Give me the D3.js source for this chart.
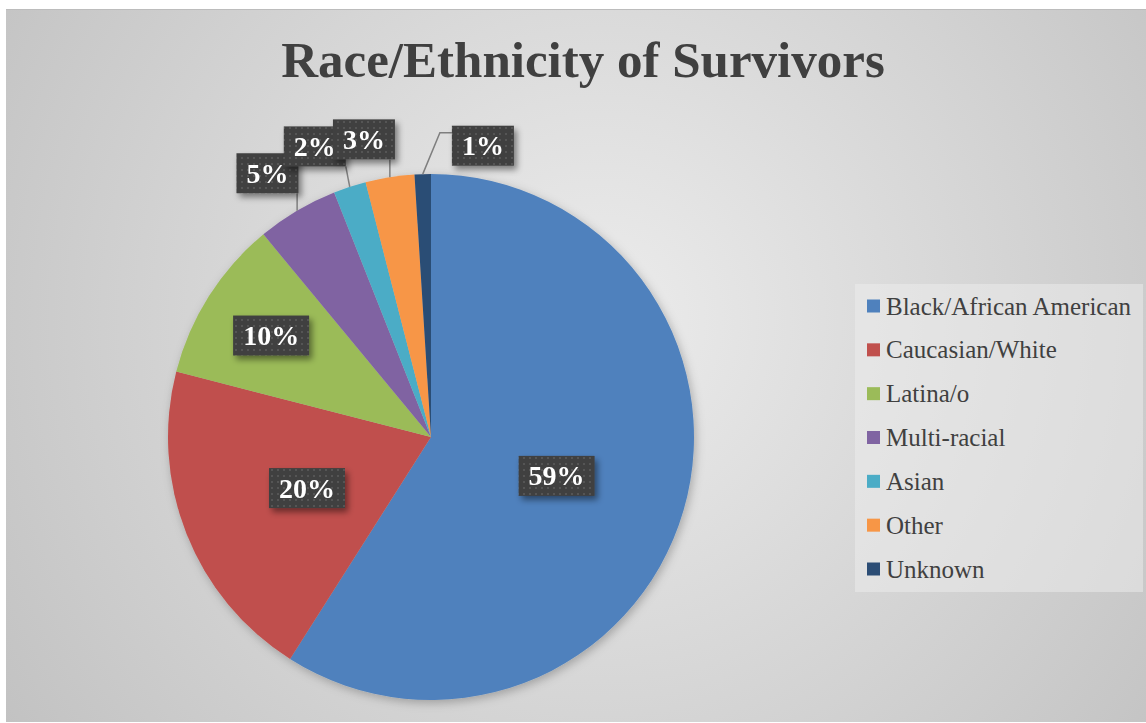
<!DOCTYPE html>
<html>
<head>
<meta charset="utf-8">
<script src="https://cdn.jsdelivr.net/npm/d3@7"></script>
<style>
  html, body { margin: 0; padding: 0; background: #fff; }
  svg { display: block; }
</style>
</head>
<body>
<div id="chart"></div>
<script>
// chart values
var categories = ["Black/African American", "Caucasian/White", "Latina/o", "Multi-racial", "Asian", "Other", "Unknown"];
var shares = [59, 20, 10, 5, 2, 3, 1];
var labelTexts = ["59%", "20%", "10%", "5%", "2%", "3%", "1%"];
var colors = ["#4f81bd", "#c0504d", "#9bbb59", "#8064a2", "#4bacc6", "#f79646", "#2c4d75"];

// label placement (radius as part of pie radius, angle nudge in degrees)
var labelRadius = [0.50, 0.51, 0.72, 1.18, 1.19, 1.16, 1.125];
var labelNudge = [1, -0.8, 0, -1.2, -3.8, -3.7, 11.9];

var W = 1146, H = 723;
var cx = 431, cy = 437, R = 263;

var svg = d3.select("#chart").append("svg")
    .attr("width", W)
    .attr("height", H);

var defs = svg.append("defs");

var bg = defs.append("radialGradient")
    .attr("id", "bgGrad")
    .attr("gradientUnits", "userSpaceOnUse")
    .attr("cx", 600).attr("cy", 320).attr("r", 720);
bg.append("stop").attr("offset", "0%").attr("stop-color", "#ececec");
bg.append("stop").attr("offset", "100%").attr("stop-color", "#c2c2c2");

var pat = defs.append("pattern")
    .attr("id", "dots")
    .attr("patternUnits", "userSpaceOnUse")
    .attr("width", 6).attr("height", 6);
pat.append("rect").attr("width", 6).attr("height", 6).attr("fill", "#3f3f3f");
pat.append("rect").attr("x", 2).attr("y", 2).attr("width", 2).attr("height", 2).attr("fill", "#545454");

var sh = defs.append("filter").attr("id", "boxShadow")
    .attr("x", "-30%").attr("y", "-30%").attr("width", "160%").attr("height", "170%");
sh.append("feDropShadow").attr("dx", 3).attr("dy", 4).attr("stdDeviation", 3)
    .attr("flood-color", "#000").attr("flood-opacity", 0.45);

var psh = defs.append("filter").attr("id", "pieShadow")
    .attr("x", "-10%").attr("y", "-10%").attr("width", "120%").attr("height", "120%");
psh.append("feDropShadow").attr("dx", 2).attr("dy", 3).attr("stdDeviation", 5)
    .attr("flood-color", "#000").attr("flood-opacity", 0.25);

// background
svg.append("rect")
    .attr("x", 6).attr("y", 9)
    .attr("width", W - 6).attr("height", H - 10)
    .attr("fill", "url(#bgGrad)");
svg.append("line")
    .attr("x1", 6).attr("x2", W).attr("y1", 9.5).attr("y2", 9.5)
    .attr("stroke", "#bcbcbc");

// title
svg.append("text")
    .attr("x", 583).attr("y", 77)
    .attr("text-anchor", "middle")
    .style("font-family", "'Liberation Serif', serif")
    .style("font-weight", "bold")
    .style("font-size", "51px")
    .attr("fill", "#404040")
    .text("Race/Ethnicity of Survivors");

// pie
var pie = d3.pie().sort(null).value(function(d) { return d; });
var arcs = pie(shares);
var arc = d3.arc().innerRadius(0).outerRadius(R);

var g = svg.append("g").attr("transform", "translate(" + cx + "," + cy + ")");

g.append("g").attr("filter", "url(#pieShadow)")
    .selectAll("path")
    .data(arcs)
    .enter().append("path")
    .attr("d", arc)
    .attr("fill", function(d, i) { return colors[i]; });

// labels
var lineLayer = g.append("g");
var boxLayer = g.append("g");

function polar(a, r) {
    return [Math.sin(a) * r, -Math.cos(a) * r];
}

arcs.forEach(function(d, i) {
    var mid = (d.startAngle + d.endAngle) / 2;
    var p = polar(mid + labelNudge[i] * Math.PI / 180, labelRadius[i] * R);

    var lg = boxLayer.append("g").attr("filter", "url(#boxShadow)");
    var rect = lg.append("rect");
    var t = lg.append("text")
        .attr("x", p[0]).attr("y", p[1])
        .attr("dy", "0.34em")
        .attr("text-anchor", "middle")
        .style("font-family", "'Liberation Serif', serif")
        .style("font-weight", "bold")
        .style("font-size", "28px")
        .attr("fill", "#fff")
        .text(labelTexts[i]);

    var tw = t.node().getComputedTextLength();
    var bw = tw + 20, bh = 40;
    var x0 = p[0] - bw / 2, y0 = p[1] - bh / 2;
    rect.attr("x", x0).attr("y", y0).attr("width", bw).attr("height", bh)
        .attr("fill", "url(#dots)");

    // leader line for labels outside the pie
    if (labelRadius[i] > 1) {
        var a = polar(mid, R);
        var pts;
        if (a[0] <= x0 + bw + 6 && a[0] >= x0 - 6) {
            var lx = Math.max(x0, Math.min(x0 + bw, a[0]));
            pts = [a, [lx, y0 + bh]];
        } else {
            pts = [a, [x0 - 12, y0 + 7], [x0, y0 + 7]];
        }
        lineLayer.append("path")
            .attr("d", d3.line()(pts))
            .attr("fill", "none")
            .attr("stroke", "#7f7f7f")
            .attr("stroke-width", 1.5);
    }
});

// legend
var legend = svg.append("g");
legend.append("rect")
    .attr("x", 855).attr("y", 284)
    .attr("width", 288).attr("height", 308)
    .attr("fill", "#eeeeee").attr("fill-opacity", 0.5);

var ly = d3.scalePoint().domain(categories).range([306, 569]);

var items = legend.selectAll("g.item")
    .data(categories)
    .enter().append("g").attr("class", "item")
    .attr("transform", function(d) { return "translate(867," + ly(d) + ")"; });

items.append("rect")
    .attr("x", 0).attr("y", -6.5)
    .attr("width", 13).attr("height", 13)
    .attr("fill", function(d, i) { return colors[i]; });

items.append("text")
    .attr("x", 19).attr("y", 8.5)
    .style("font-family", "'Liberation Serif', serif")
    .style("font-size", "25px")
    .attr("fill", "#404040")
    .text(function(d) { return d; });
</script>
</body>
</html>
